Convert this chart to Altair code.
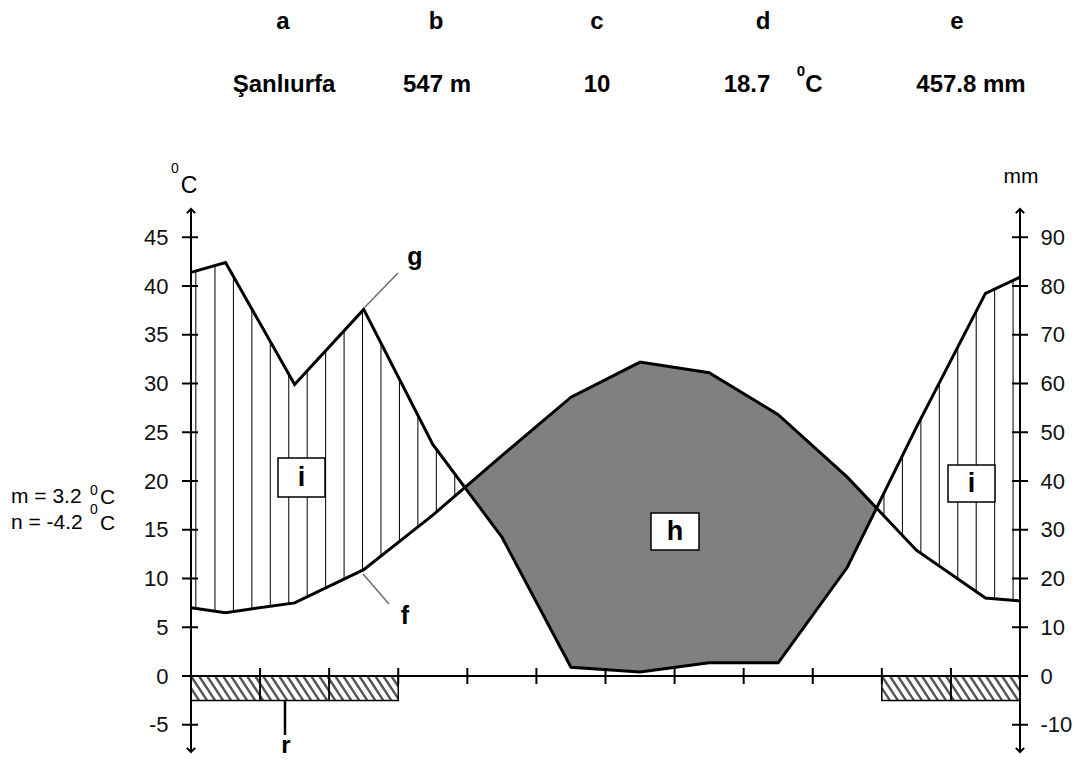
import altair as alt
import numpy as np
import pandas as pd

# ---------------- data ----------------
month_pos = [0.0, 0.5, 1.5, 2.5, 3.5, 4.5, 5.5, 6.5, 7.5, 8.5, 9.5, 10.5, 11.5, 12.0]
temp_c = [7.0, 6.5, 7.5, 10.9, 16.5, 22.6, 28.6, 32.2, 31.1, 26.8, 20.4, 12.9, 8.0, 7.7]
precip_mm = [82.8, 84.8, 59.8, 75.2, 47.5, 28.5, 1.8, 0.8, 2.7, 2.7, 22.3, 51.0, 78.5, 81.8]
frost_months = [1, 2, 3, 11, 12]
month_bounds = [1, 2, 3, 4, 5, 6, 7, 8, 9, 10, 11]
temp_ticks = [-5, 0, 5, 10, 15, 20, 25, 30, 35, 40, 45]
precip_ticks = [-10, 0, 10, 20, 30, 40, 50, 60, 70, 80, 90]
header_keys = ["a", "b", "c", "d", "e"]
header_vals = ["Şanlıurfa", "547 m", "10", "18.7", "457.8 mm"]
stats_lines = ["m = 3.2", "n = -4.2"]

# ---------------- layout ----------------
FONT = "Liberation Sans"
W, H = 829, 546
YMIN, YMAX = -8, 48
X0 = 191.0                      # page x of month 0
TOP = 208.0                     # page y of plot top
PXM = W / 12.0
PYC = H / float(YMAX - YMIN)
Y0 = TOP + YMAX * PYC           # page y of 0 degC


def mx(px):
    return (px - X0) / PXM


def cy(py):
    return (Y0 - py) / PYC


xscale = alt.Scale(domain=[0, 12], nice=False, zero=False)
tscale = alt.Scale(domain=[YMIN, YMAX], nice=False, zero=False)
left_axis = alt.Axis(values=temp_ticks, domain=False, ticks=False, grid=False, title=None,
                     labelFont=FONT, labelFontSize=22, labelPadding=23, labelColor="#111",
                     labelExpr="'' + datum.value", orient="left")


def X(f):
    return alt.X(f, type="quantitative", scale=xscale, axis=None)


def Y(f):
    return alt.Y(f, type="quantitative", scale=tscale, axis=left_axis)


x = np.array(month_pos)
t = np.array(temp_c)
p = np.array(precip_mm) / 2.0   # 10 mm = 5 degC

# ---------- arid (grey) area ----------
grid = []
for i in range(len(x) - 1):
    grid.append(x[i])
    d0, d1 = t[i] - p[i], t[i + 1] - p[i + 1]
    if d0 * d1 < 0:
        grid.append(x[i] + (x[i + 1] - x[i]) * d0 / (d0 - d1))
grid.append(x[-1])
grid = np.array(grid)
tt = np.interp(grid, x, t)
pp = np.interp(grid, x, p)
area_df = pd.DataFrame({"x": grid, "top": tt, "bot": np.minimum(tt, pp)})

# ---------- humid hatching ----------
hx = [0.07]
v = 0.347
while v < 6:
    hx.append(v)
    v += 0.267
v = 11.9
while v > 6:
    hx.append(v)
    v -= 0.267
hx = np.array(hx)
ht = np.interp(hx, x, t)
hp = np.interp(hx, x, p)
m = hp > ht
hatch_df = pd.DataFrame({"x": hx[m], "y": ht[m], "y2": hp[m]})

# ---------- curves ----------
curve_df = pd.concat([
    pd.DataFrame({"x": x, "y": t, "s": "temp"}),
    pd.DataFrame({"x": x, "y": p, "s": "precip"}),
])

# ---------- frost bars ----------
DEPTH = -2.5
blocks = []
for mo in sorted(frost_months):
    if blocks and blocks[-1][1] == mo - 1:
        blocks[-1][1] = mo
    else:
        blocks.append([mo - 1, mo])
sw, sd = 0.232, 0.116
stripes = []
for a, b in blocks:
    c = a - sw
    while c < b:
        x1 = max(c, a)
        x2 = min(c + sw, b)
        if x2 > x1:
            stripes.append({"x": x1, "y": (x1 - c) / sw * DEPTH,
                            "x2": x2, "y2": (x2 - c) / sw * DEPTH})
        c += sd
stripe_df = pd.DataFrame(stripes)
frost_df = pd.DataFrame({"x": [mo - 1 for mo in frost_months], "x2": frost_months,
                         "y": [0.0] * len(frost_months), "y2": [DEPTH] * len(frost_months)})

# ---------- axes drawn as rules ----------
axis_df = pd.DataFrame([
    {"x": 0, "x2": 0, "y": -7.8, "y2": 47.9},
    {"x": 12, "x2": 12, "y": -7.8, "y2": 47.9},
    {"x": mx(182), "x2": 12, "y": 0, "y2": 0},
])
lt_df = pd.DataFrame({"x": mx(182), "x2": mx(198), "y": temp_ticks, "y2": temp_ticks})
bt_df = pd.DataFrame({"x": month_bounds, "x2": month_bounds,
                      "y": [-0.82] * len(month_bounds), "y2": [0.82] * len(month_bounds)})
up_df = pd.DataFrame({"x": [0, 12], "y": [47.9, 47.9]})
dn_df = pd.DataFrame({"x": [0, 12], "y": [-7.8, -7.8]})

# ---------- annotation boxes and leader lines ----------
box_df = pd.DataFrame([
    {"x": mx(278), "x2": mx(325), "y": cy(458), "y2": cy(497)},
    {"x": mx(948), "x2": mx(995), "y": cy(465), "y2": cy(502)},
    {"x": mx(651), "x2": mx(699), "y": cy(513), "y2": cy(550)},
])
lead_grey = pd.DataFrame([
    {"x": mx(398), "y": cy(273), "x2": mx(365), "y2": cy(307)},
    {"x": mx(389), "y": cy(604), "x2": mx(363), "y2": cy(574)},
])
lead_black = pd.DataFrame([{"x": mx(285), "y": cy(700), "x2": mx(285), "y2": cy(735)}])

bold_c = [(k, mx(px), cy(22), 24) for k, px in zip(header_keys, [283, 436, 597, 763, 957])]
bold_c += [(vv, mx(px), cy(85), 24) for vv, px in zip(header_vals, [284, 437, 597, 747, 971])]
bold_c += [("C", mx(814), cy(85), 24), ("0", mx(801), cy(71), 15)]
bold_c += [("g", mx(415), cy(257), 25), ("f", mx(405), cy(616), 25), ("r", mx(286), cy(746), 24),
           ("i", mx(301.5), cy(477.5), 27), ("i", mx(971.5), cy(483.5), 27), ("h", mx(675), cy(531.5), 27)]
reg_c = [("C", mx(189), cy(186), 23), ("0", mx(175), cy(169), 14), ("mm", mx(1021), cy(177), 21),
         ("0", mx(94), cy(491), 14), ("0", mx(94), cy(510), 14)]
reg_l = [(stats_lines[0], mx(11), cy(497), 21), ("C", mx(100), cy(498), 21),
         (stats_lines[1], mx(11), cy(523), 21), ("C", mx(100), cy(524), 21)]


def text_layer(rows, weight, align):
    df = pd.DataFrame(rows, columns=["label", "x", "y", "fs"])
    return alt.Chart(df).mark_text(font=FONT, fontWeight=weight, align=align, baseline="middle",
                                   color="black").encode(
        x=X("x"), y=Y("y"), text="label:N", size=alt.Size("fs:Q", scale=None, legend=None))


def seg(df, **kw):
    return alt.Chart(df).mark_rule(**kw).encode(x=X("x"), x2=alt.X2("x2"), y=Y("y"), y2=alt.Y2("y2"))


layers = [
    seg(stripe_df, color="#555555", strokeWidth=2.4),
    alt.Chart(frost_df).mark_rect(fillOpacity=0, stroke="black", strokeWidth=1.5).encode(
        x=X("x"), x2=alt.X2("x2"), y=Y("y"), y2=alt.Y2("y2")),
    alt.Chart(area_df).mark_area(color="#808080", opacity=1).encode(x=X("x"), y=Y("top"), y2=alt.Y2("bot")),
    alt.Chart(hatch_df).mark_rule(color="black", strokeWidth=1).encode(x=X("x"), y=Y("y"), y2=alt.Y2("y2")),
    alt.Chart(curve_df).mark_line(color="black", strokeWidth=3).encode(x=X("x"), y=Y("y"), detail="s:N"),
    seg(axis_df, color="black", strokeWidth=2),
    seg(lt_df, color="black", strokeWidth=2),
    seg(bt_df, color="black", strokeWidth=2),
    alt.Chart(up_df).mark_point(shape="M-1,1L0,0L1,1", size=70, filled=False, color="black",
                                strokeWidth=2, opacity=1).encode(x=X("x"), y=Y("y")),
    alt.Chart(dn_df).mark_point(shape="M-1,-1L0,0L1,-1", size=70, filled=False, color="black",
                                strokeWidth=2, opacity=1).encode(x=X("x"), y=Y("y")),
    alt.Chart(box_df).mark_rect(fill="white", stroke="black", strokeWidth=1.5).encode(
        x=X("x"), x2=alt.X2("x2"), y=Y("y"), y2=alt.Y2("y2")),
    seg(lead_grey, color="#707070", strokeWidth=1.6),
    seg(lead_black, color="black", strokeWidth=2.5),
    text_layer(bold_c, "bold", "center"),
    text_layer(reg_c, "normal", "center"),
    text_layer(reg_l, "normal", "left"),
]
inner = alt.layer(*layers)

mm_df = pd.DataFrame({"mm": precip_ticks, "x": mx(1012), "x2": mx(1028)})
mm_layer = alt.Chart(mm_df).mark_rule(color="black", strokeWidth=2).encode(
    x=X("x"), x2=alt.X2("x2"),
    y=alt.Y("mm:Q", scale=alt.Scale(domain=[2 * YMIN, 2 * YMAX], nice=False, zero=False),
            axis=alt.Axis(orient="right", values=precip_ticks, domain=False, ticks=False, grid=False,
                          title=None, labelFont=FONT, labelFontSize=22, labelPadding=20,
                          labelColor="#111", labelExpr="'' + datum.value")))

chart = alt.layer(inner, mm_layer).resolve_scale(y="independent").properties(
    width=W, height=H,
    autosize=alt.AutoSizeParams(type="none"),
    padding={"left": 183, "top": 200, "right": 64, "bottom": 9},
    background="white",
).configure_view(stroke=None)

chart.save("out.html", embed_options={"renderer": "svg", "actions": False})
